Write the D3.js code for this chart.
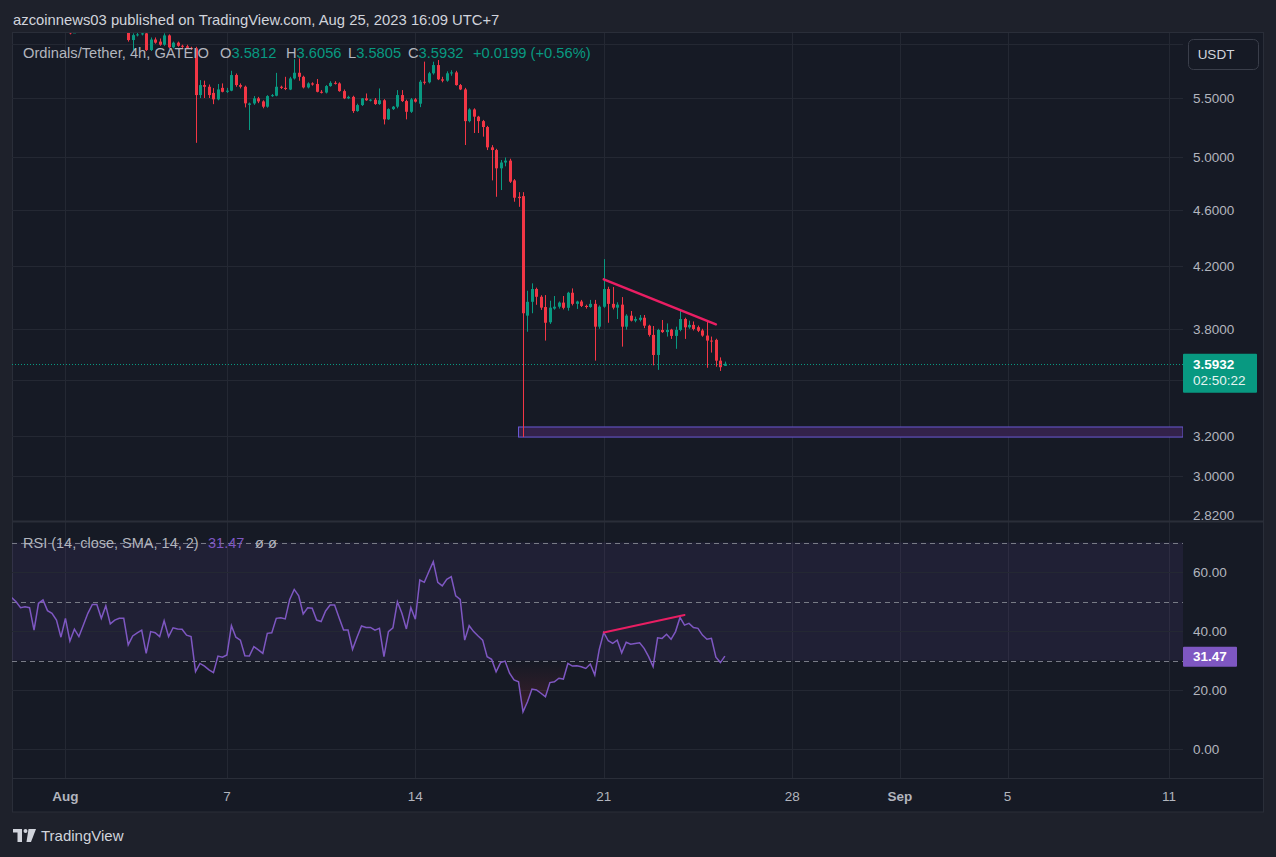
<!DOCTYPE html>
<html><head><meta charset="utf-8">
<script src="https://cdn.jsdelivr.net/npm/d3@7"></script>
<style>
html,body{margin:0;padding:0;background:#1e212b;}
svg{display:block;}
text{font-family:"Liberation Sans","Noto Sans",sans-serif;}
</style></head><body>
<svg id="c" width="1276" height="857"></svg>
<script>
// ---------- DATA ----------
const startTime = Date.UTC(2023, 6, 30, 0, 0); // first 4h bar (chart time, UTC+7)
const barHours = 4;

const opens = [6.58,6.55,6.50,6.44,6.46,6.43,6.22,6.45,6.49,6.40,6.37,6.31,6.17,6.30,6.10,6.20,6.15,6.22,6.30,6.37,6.37,6.26,6.35,6.22,6.25,6.27,
6.27,6.035,6.083,6.09,6.10,5.939,6.04,6.02,5.99,6.08,5.965,6.01,5.98,5.975,5.96,5.955,5.526,5.615,5.60,5.545,5.488,5.59,5.555,5.565,
5.706,5.615,5.60,5.44,5.452,5.497,5.47,5.424,5.517,5.52,5.60,5.59,5.575,5.675,5.727,5.69,5.594,5.63,5.625,5.555,
5.548,5.606,5.635,5.63,5.561,5.497,5.51,5.386,5.438,5.497,5.48,5.485,5.447,5.48,5.315,5.403,5.424,5.526,5.473,5.38,
5.488,5.45,5.645,5.64,5.722,5.798,5.667,5.655,5.722,5.73,5.615,5.576,5.30,5.40,5.338,5.30,5.25,5.082,5.06,4.914,
4.96,4.975,4.82,4.695,4.70,3.881,3.968,4.05,4.00,3.935,3.84,3.925,3.937,3.963,3.93,4.026,3.955,3.97,3.942,3.935,
3.955,3.813,3.937,4.05,3.955,3.931,3.95,3.813,3.881,3.85,3.855,3.868,3.819,3.763,3.644,3.793,3.78,3.795,3.757,3.793,
3.86,3.809,3.824,3.81,3.79,3.759,3.729,3.733,3.611,3.5812];
const highs = [6.62,6.59,6.53,6.49,6.49,6.46,6.47,6.52,6.51,6.43,6.39,6.33,6.33,6.32,6.23,6.22,6.24,6.33,6.40,6.41,6.39,6.38,6.37,6.28,6.29,6.31,
6.30,6.10,6.12,6.14,6.13,6.06,6.06,6.05,6.10,6.09,6.02,6.02,5.99,5.99,5.97,5.97,5.66,5.655,5.62,5.588,5.625,5.63,5.59,5.745,
5.72,5.63,5.61,5.46,5.517,5.51,5.48,5.525,5.535,5.726,5.61,5.69,5.69,5.852,5.86,5.70,5.64,5.64,5.67,5.57,
5.615,5.65,5.65,5.64,5.575,5.52,5.52,5.45,5.50,5.54,5.49,5.50,5.585,5.49,5.41,5.43,5.57,5.57,5.485,5.50,
5.50,5.66,5.83,5.735,5.829,5.845,5.69,5.74,5.75,5.745,5.625,5.59,5.41,5.41,5.345,5.31,5.26,5.10,5.07,4.98,
5.00,4.99,4.83,4.73,4.73,4.039,4.087,4.059,4.01,4.011,3.975,4.005,3.97,4.005,4.032,4.054,3.975,3.98,3.95,3.98,
3.98,3.945,4.249,4.065,4.063,3.965,3.998,3.89,3.91,3.875,3.885,3.885,3.825,3.817,3.80,3.854,3.833,3.80,3.813,3.917,
3.868,3.85,3.845,3.82,3.80,3.844,3.753,3.74,3.63,3.6056];
const lows = [6.52,6.47,6.42,6.42,6.40,6.19,6.20,6.43,6.38,6.35,6.29,6.15,6.15,6.09,6.11,6.13,6.14,6.20,6.28,6.34,6.24,6.24,6.20,6.20,6.23,6.24,
6.02,5.932,6.07,6.08,5.93,5.93,6.00,5.98,5.98,5.955,5.955,5.97,5.96,5.95,5.94,5.119,5.50,5.50,5.50,5.446,5.48,5.55,5.545,5.56,
5.60,5.585,5.418,5.225,5.44,5.455,5.41,5.415,5.51,5.515,5.58,5.57,5.57,5.665,5.654,5.585,5.585,5.61,5.55,5.54,
5.54,5.60,5.62,5.555,5.49,5.49,5.37,5.38,5.43,5.475,5.47,5.44,5.44,5.272,5.31,5.395,5.41,5.465,5.315,5.37,
5.46,5.42,5.62,5.63,5.71,5.66,5.64,5.645,5.70,5.61,5.57,5.101,5.29,5.20,5.20,5.17,5.06,4.82,4.695,4.746,
4.93,4.80,4.658,4.62,3.195,3.782,3.896,3.949,3.917,3.729,3.83,3.918,3.925,3.92,3.912,3.945,3.923,3.935,3.925,3.93,
3.611,3.80,3.93,3.837,3.92,3.86,3.693,3.795,3.845,3.84,3.845,3.804,3.753,3.584,3.558,3.775,3.753,3.739,3.68,3.785,
3.739,3.80,3.79,3.78,3.752,3.570,3.658,3.576,3.552,3.5805];
const closes = [6.55,6.50,6.44,6.46,6.43,6.22,6.45,6.49,6.40,6.37,6.31,6.17,6.30,6.10,6.20,6.15,6.22,6.30,6.37,6.37,6.26,6.35,6.22,6.25,6.27,6.27,
6.035,6.083,6.09,6.10,5.939,6.04,6.01,5.99,6.08,5.965,6.01,5.98,5.975,5.96,5.955,5.526,5.615,5.60,5.526,5.488,5.576,5.555,5.565,5.706,
5.615,5.60,5.453,5.452,5.497,5.47,5.424,5.517,5.525,5.60,5.59,5.58,5.675,5.727,5.69,5.594,5.63,5.62,5.555,5.548,
5.606,5.635,5.63,5.561,5.497,5.51,5.386,5.438,5.497,5.48,5.485,5.447,5.48,5.315,5.403,5.424,5.526,5.473,5.38,5.488,
5.468,5.645,5.64,5.722,5.798,5.667,5.655,5.722,5.73,5.615,5.576,5.30,5.40,5.338,5.30,5.25,5.082,5.06,4.914,4.96,
4.975,4.81,4.688,4.685,3.896,3.968,4.05,4.00,3.931,3.837,3.931,3.937,3.963,3.93,4.026,3.955,3.97,3.942,3.935,3.955,
3.813,3.937,4.05,3.955,3.931,3.95,3.813,3.881,3.85,3.86,3.868,3.819,3.763,3.644,3.793,3.78,3.793,3.757,3.793,3.86,
3.809,3.824,3.799,3.788,3.759,3.729,3.725,3.611,3.5733,3.5932];

const rsiValues = [51.3,49.9,47.9,48.2,47.9,40.3,49.4,50.5,46.9,46.0,43.7,37.9,44.3,36.6,40.6,38.1,42.0,46.0,49.0,49.0,44.3,48.5,42.4,43.7,44.3,44.3,35.3,38.3,39.4,40.3,32.4,39.8,39.4,38.1,43.5,38.1,41.1,40.7,40.6,38.6,38.1,26.2,29.0,28.1,26.8,25.9,31.5,31.1,31.9,41.8,37.9,36.9,31.6,31.5,34.7,33.6,
32.4,39.2,39.4,44.3,44.5,44.1,50.7,54.1,51.9,45.8,47.9,47.7,43.7,43.2,46.8,48.8,48.8,44.5,40.3,40.3,33.8,37.9,41.7,41.2,41.2,40.3,40.9,31.3,39.8,41.1,49.9,46.0,40.7,47.9,44.0,57.3,56.5,60.1,63.5,56.5,55.3,57.5,58.4,51.9,50.7,36.9,41.8,39.8,38.3,36.9,31.3,30.4,26.2,29.3,
29.8,25.7,23.4,22.8,12.6,16.0,20.3,20.0,18.9,17.7,22.5,22.8,24.0,23.7,29.0,28.1,28.2,27.9,27.3,28.8,25.1,33.8,39.5,36.7,35.8,36.9,32.6,36.2,35.5,35.8,36.0,34.1,31.3,27.9,37.7,37.5,38.9,37.2,39.8,44.6,42.0,42.6,41.2,40.9,38.6,37.2,37.5,31.1,29.3,31.47];

// grid levels (6.0 and 3.5 labels are hidden behind the USDT button / price tag in the reference)
const priceGrid = [6.0, 5.5, 5.0, 4.6, 4.2, 3.8, 3.5, 3.2, 3.0];
const priceTicks = [5.5, 5.0, 4.6, 4.2, 3.8, 3.2, 3.0, 2.82];
const priceTickLabels = ["5.5000","5.0000","4.6000","4.2000","3.8000","3.2000","3.0000","2.8200"];
const rsiTicks = [60, 40, 20, 0];
const rsiTickLabels = ["60.00","40.00","20.00","0.00"];
const rsiBands = [70, 50, 30];
const timeTicks = [Date.UTC(2023,7,1),Date.UTC(2023,7,7),Date.UTC(2023,7,14),Date.UTC(2023,7,21),Date.UTC(2023,7,28),Date.UTC(2023,8,1),Date.UTC(2023,8,5),Date.UTC(2023,8,11)];
const timeTickLabels = ["Aug","7","14","21","28","Sep","5","11"];
const timeTickBold = [true,false,false,false,false,true,false,false];

const priceTrendIdx = [132, 157];
const priceTrendVals = [4.113, 3.827];
const rsiTrendIdx = [132, 150];
const rsiTrendVals = [39.5, 45.4];
const zoneStartIdx = 113;
const zoneTop = 3.247, zoneBottom = 3.195;

const lastPrice = 3.5932, lastRsi = 31.47, countdown = "02:50:22";

// ---------- LAYOUT ----------
const W = 1276, H = 857;
const L = 12, R = 1263, plotR = 1183;
const T = 33, priceB = 521, rsiT = 522, rsiB = 778, axisB = 812;
const UP = "#089981", DN = "#f23645";
const GRID = "#242833", TXT = "#b2b5be";

const svg = d3.select("#c");
const t = i => startTime + i * barHours * 3600 * 1000;

const x = d3.scaleUtc().domain([Date.UTC(2023,6,30), Date.UTC(2023,8,11)]).range([11.6, 1169]);
const yP = d3.scaleLog().domain([2.82, 5.5]).range([515, 98]);
const yR = d3.scaleLinear().domain([0, 60]).range([749, 572]);

const defs = svg.append("defs");
defs.append("clipPath").attr("id","cp").append("rect").attr("x",L).attr("y",T).attr("width",plotR-L).attr("height",priceB-T);
defs.append("clipPath").attr("id","cr").append("rect").attr("x",L).attr("y",rsiT).attr("width",plotR-L).attr("height",rsiB-rsiT);
const grad = defs.append("linearGradient").attr("id","osg").attr("gradientUnits","userSpaceOnUse")
  .attr("x1",0).attr("x2",0).attr("y1",yR(30)).attr("y2",yR(0));
grad.append("stop").attr("offset",0).attr("stop-color","#f23645").attr("stop-opacity",0);
grad.append("stop").attr("offset",1).attr("stop-color","#f23645").attr("stop-opacity",0.3);

// backgrounds
svg.append("rect").attr("width",W).attr("height",H).attr("fill","#1e212b");
svg.append("rect").attr("x",L+0.5).attr("y",T-0.5).attr("width",R-L).attr("height",axisB-T+0.5)
  .attr("fill","#161a25").attr("stroke","#2a2e39");

// publisher line
svg.append("text").attr("x",13).attr("y",25).attr("fill","#d1d4dc").attr("font-size",14.8)
  .text("azcoinnews03 published on TradingView.com, Aug 25, 2023 16:09 UTC+7");

// vertical grid
svg.append("g").selectAll("line").data(timeTicks).join("line")
  .attr("x1",d=>Math.round(x(d))+0.5).attr("x2",d=>Math.round(x(d))+0.5)
  .attr("y1",T).attr("y2",rsiB).attr("stroke",GRID);

// price horizontal grid
svg.append("g").selectAll("line").data(priceGrid).join("line")
  .attr("x1",L).attr("x2",plotR).attr("y1",d=>Math.round(yP(d))+0.5).attr("y2",d=>Math.round(yP(d))+0.5)
  .attr("stroke",GRID);

// ---------- PRICE PANE ----------
const gp = svg.append("g").attr("clip-path","url(#cp)");
// zone
gp.append("rect").attr("x",x(t(zoneStartIdx))).attr("y",yP(zoneTop))
  .attr("width",plotR - x(t(zoneStartIdx))).attr("height",yP(zoneBottom)-yP(zoneTop))
  .attr("fill","#33224a").attr("stroke","#6a5ad6").attr("stroke-width",1);

const idx = d3.range(closes.length);
gp.append("g").selectAll("line").data(idx).join("line")
  .attr("x1",i=>Math.round(x(t(i)))+0.5).attr("x2",i=>Math.round(x(t(i)))+0.5)
  .attr("y1",i=>yP(highs[i])).attr("y2",i=>yP(lows[i]))
  .attr("stroke",i=>closes[i]>=opens[i]?UP:DN).attr("stroke-width",1);
gp.append("g").selectAll("rect").data(idx).join("rect")
  .attr("x",i=>Math.round(x(t(i)))-1).attr("width",3)
  .attr("y",i=>yP(Math.max(opens[i],closes[i])))
  .attr("height",i=>Math.max(1, yP(Math.min(opens[i],closes[i])) - yP(Math.max(opens[i],closes[i]))))
  .attr("fill",i=>closes[i]>=opens[i]?UP:DN);

// trendline
gp.append("line").attr("x1",x(t(priceTrendIdx[0]))).attr("y1",yP(priceTrendVals[0]))
  .attr("x2",x(t(priceTrendIdx[1]))).attr("y2",yP(priceTrendVals[1]))
  .attr("stroke","#e91e63").attr("stroke-width",2.5).attr("stroke-linecap","round");

// last price line
svg.append("line").attr("x1",L).attr("x2",plotR).attr("y1",Math.round(yP(lastPrice))+0.5).attr("y2",Math.round(yP(lastPrice))+0.5)
  .attr("stroke",UP).attr("stroke-dasharray","1,2");

// legend
const legendItems = [
  {x:23, lab:"Ordinals/Tether, 4h, GATEIO", val:""},
  {x:220, lab:"O", val:opens[opens.length-1].toFixed(4)},
  {x:286, lab:"H", val:highs[highs.length-1].toFixed(4)},
  {x:348, lab:"L", val:lows[lows.length-1].toFixed(4)},
  {x:408, lab:"C", val:lastPrice.toFixed(4)},
  {x:473, lab:"", val:"+0.0199 (+0.56%)"}
];
legendItems.forEach(d=>{
  const tx = svg.append("text").attr("x",d.x).attr("y",58).attr("font-size",14.7);
  tx.append("tspan").attr("fill","#b2b5be").text(d.lab);
  tx.append("tspan").attr("fill",UP).text(d.val);
});

// pane separator
svg.append("line").attr("x1",L).attr("x2",R).attr("y1",521.5).attr("y2",521.5).attr("stroke","#2a2e39").attr("stroke-width",2);

// ---------- RSI PANE ----------
const gr = svg.append("g").attr("clip-path","url(#cr)");
gr.append("rect").attr("x",L).attr("width",plotR-L).attr("y",yR(70)).attr("height",yR(30)-yR(70))
  .attr("fill","rgba(126,87,194,0.10)");
gr.append("g").selectAll("line").data(rsiTicks).join("line")
  .attr("x1",L).attr("x2",plotR).attr("y1",d=>Math.round(yR(d))+0.5).attr("y2",d=>Math.round(yR(d))+0.5)
  .attr("stroke",GRID);
gr.append("g").selectAll("line").data(rsiBands).join("line")
  .attr("x1",L).attr("x2",plotR).attr("y1",d=>Math.round(yR(d))+0.5).attr("y2",d=>Math.round(yR(d))+0.5)
  .attr("stroke","#787b86").attr("stroke-dasharray","5,4");
const os = d3.area().x((d,i)=>x(t(i))).y0(yR(30)).y1(d=>yR(Math.min(d,30)));
gr.append("path").datum(rsiValues).attr("d",os).attr("fill","url(#osg)");
const ln = d3.line().x((d,i)=>x(t(i))).y(d=>yR(d));
gr.append("path").datum(rsiValues).attr("d",ln).attr("fill","none").attr("stroke","#7e57c2").attr("stroke-width",1.5);
gr.append("line").attr("x1",x(t(rsiTrendIdx[0]))).attr("y1",yR(rsiTrendVals[0]))
  .attr("x2",x(t(rsiTrendIdx[1]))).attr("y2",yR(rsiTrendVals[1]))
  .attr("stroke","#e91e63").attr("stroke-width",2).attr("stroke-linecap","round");

svg.append("text").attr("x",23).attr("y",548).attr("font-size",14.5).attr("fill",TXT).text("RSI (14, close, SMA, 14, 2)");
svg.append("text").attr("x",208).attr("y",548).attr("font-size",14.5).attr("fill","#7e57c2").text(lastRsi.toFixed(2));
svg.append("text").attr("x",255).attr("y",548).attr("font-size",14.5).attr("fill",TXT).text("ø  ø");

// time axis separator
svg.append("line").attr("x1",L).attr("x2",R).attr("y1",778.5).attr("y2",778.5).attr("stroke","#2a2e39");

// ---------- AXES LABELS ----------
svg.append("g").selectAll("text").data(priceTicks).join("text")
  .attr("x",1193).attr("y",d=>yP(d)+5).attr("font-size",13.5).attr("fill",TXT)
  .text((d,i)=>priceTickLabels[i]);
svg.append("g").selectAll("text").data(rsiTicks).join("text")
  .attr("x",1193).attr("y",d=>yR(d)+5).attr("font-size",13.5).attr("fill",TXT)
  .text((d,i)=>rsiTickLabels[i]);
svg.append("g").selectAll("text").data(timeTicks).join("text")
  .attr("x",d=>x(d)).attr("y",801).attr("text-anchor","middle").attr("font-size",13.5)
  .attr("font-weight",(d,i)=>timeTickBold[i]?"bold":"normal").attr("fill",TXT)
  .text((d,i)=>timeTickLabels[i]);

// price label box
const py = yP(lastPrice);
svg.append("rect").attr("x",plotR).attr("y",py-10).attr("width",74).attr("height",39).attr("fill",UP).attr("rx",1);
svg.append("text").attr("x",1193).attr("y",py+5).attr("font-size",13.5).attr("font-weight","bold").attr("fill","#ffffff").text(lastPrice.toFixed(4));
svg.append("text").attr("x",1193).attr("y",py+21).attr("font-size",13.5).attr("fill","#e6f4f1").text(countdown);

// rsi label box
const ry = yR(lastRsi);
svg.append("rect").attr("x",plotR).attr("y",ry-9.5).attr("width",54).attr("height",20).attr("fill","#7e57c2").attr("rx",1);
svg.append("text").attr("x",1193).attr("y",ry+5).attr("font-size",13.5).attr("font-weight","bold").attr("fill","#ffffff").text(lastRsi.toFixed(2));

// USDT button
svg.append("rect").attr("x",1188.5).attr("y",39.5).attr("width",70).attr("height",30).attr("rx",5)
  .attr("fill","#161a25").attr("stroke","#3a3e4a");
svg.append("text").attr("x",1216).attr("y",59).attr("text-anchor","middle").attr("font-size",13.5).attr("fill","#d1d4dc").text("USDT");

// footer logo
const lgG = svg.append("g").attr("fill","#d1d4dc");
lgG.append("rect").attr("x",13).attr("y",829).attr("width",9).attr("height",3.5);
lgG.append("rect").attr("x",17.5).attr("y",829).attr("width",4.5).attr("height",13);
lgG.append("circle").attr("cx",25.5).attr("cy",831).attr("r",2);
lgG.append("path").attr("d","M28.5,829 L36,829 L31,842 L26.5,842 Z");
svg.append("text").attr("x",41).attr("y",841).attr("font-size",15).attr("fill","#d1d4dc").text("TradingView");
</script>
</body></html>
